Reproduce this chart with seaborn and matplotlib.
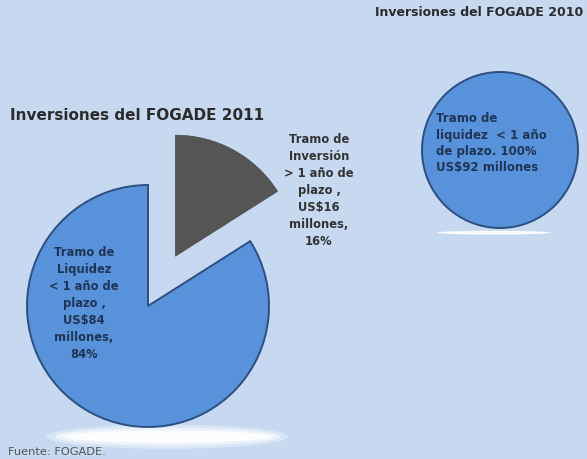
import matplotlib
matplotlib.use("Agg")
import matplotlib.pyplot as plt
import seaborn as sns
from matplotlib.patches import Ellipse

sns.set_style("white")
plt.rcParams['font.family'] = ['DejaVu Sans']

# ---- data ----
categories_2011 = ["Tramo de Liquidez < 1 año de plazo", "Tramo de Inversión > 1 año de plazo"]
values_2011 = [84, 16]          # US$ millones
pct_2011 = [84, 16]             # %
categories_2010 = ["Tramo de liquidez < 1 año de plazo"]
values_2010 = [92]              # US$ millones
pct_2010 = [100]
title_2011 = "Inversiones del FOGADE 2011"
title_2010 = "Inversiones del FOGADE 2010"
source_text = "Fuente: FOGADE."

# ---- style ----
BG = "#c6d9f1"
pal = sns.color_palette(["#5892db", "#555555"])
W, H = 587, 460

fig = plt.figure(figsize=(W / 100, H / 100), dpi=100)
fig.patch.set_facecolor(BG)


def fx(x):
    return x / W


def fy(y):
    return 1 - y / H


def pie_axes(cx, cy, r):
    ax = fig.add_axes([fx(cx - r), fy(cy + r), 2 * r / W, 2 * r / H])
    return ax


def finish(ax):
    ax.set_xlim(-1, 1)
    ax.set_ylim(-1, 1)
    ax.set_aspect("auto")
    ax.axis("off")


# ---- 2011 pie ----
ax1 = pie_axes(148, 307, 121)
wedges, _ = ax1.pie(values_2011, colors=pal, startangle=90, counterclock=True,
                    explode=[0, 0.47], radius=1.0,
                    wedgeprops=dict(clip_on=False, linewidth=1.4))
wedges[0].set_edgecolor("#2d4f80")
wedges[1].set_edgecolor("#4a4a4a")
wedges[1].set_linewidth(0.5)
for w in wedges:
    w.set_zorder(2)
# reflection under the pie
for k, a in enumerate([0.35, 0.55, 0.9]):
    ax1.add_patch(Ellipse((0.16, -1.08), 2.0 - 0.14 * k, 0.2 - 0.05 * k,
                          facecolor="white", edgecolor="none", alpha=a,
                          clip_on=False, zorder=0))
finish(ax1)

lab_liq = f"Tramo de\nLiquidez\n< 1 año de\nplazo ,\nUS${values_2011[0]}\nmillones,\n{pct_2011[0]}%"
lab_inv = f"Tramo de\nInversión\n> 1 año de\nplazo ,\nUS${values_2011[1]}\nmillones,\n{pct_2011[1]}%"
fig.text(fx(84), fy(304), lab_liq, ha="center", va="center", fontsize=8.3,
         fontweight="bold", color="#1f3556", linespacing=1.4)
fig.text(fx(319), fy(191), lab_inv, ha="center", va="center", fontsize=8.3,
         fontweight="bold", color="#333333", linespacing=1.4)

# ---- 2010 pie ----
ax2 = pie_axes(500, 151, 78)
w2, _ = ax2.pie(values_2010, colors=pal[:1], startangle=90,
                wedgeprops=dict(clip_on=False, linewidth=1.4, edgecolor="#2d4f80"))
for w in w2:
    w.set_zorder(2)
ax2.add_patch(Ellipse((-0.08, -1.06), 1.45, 0.05, facecolor="white",
                      edgecolor="none", alpha=0.9, clip_on=False, zorder=0))
finish(ax2)
lab_2010 = f"Tramo de\nliquidez  < 1 año\nde plazo. {pct_2010[0]}%\nUS${values_2010[0]} millones"
fig.text(fx(436), fy(143), lab_2010, ha="left", va="center", fontsize=8.5,
         fontweight="bold", color="#1f3556", linespacing=1.3)

# ---- titles ----
fig.text(fx(10), fy(116), title_2011, ha="left", va="center", fontsize=11.0,
         fontweight="bold", color="#2b2b2b")
fig.text(fx(583), fy(13), title_2010, ha="right", va="center", fontsize=9.0,
         fontweight="bold", color="#2b2b2b")
fig.text(fx(8), fy(452), source_text, ha="left", va="center", fontsize=8.2,
         color="#555555")

fig.savefig("out.png", dpi=100, facecolor=BG)
